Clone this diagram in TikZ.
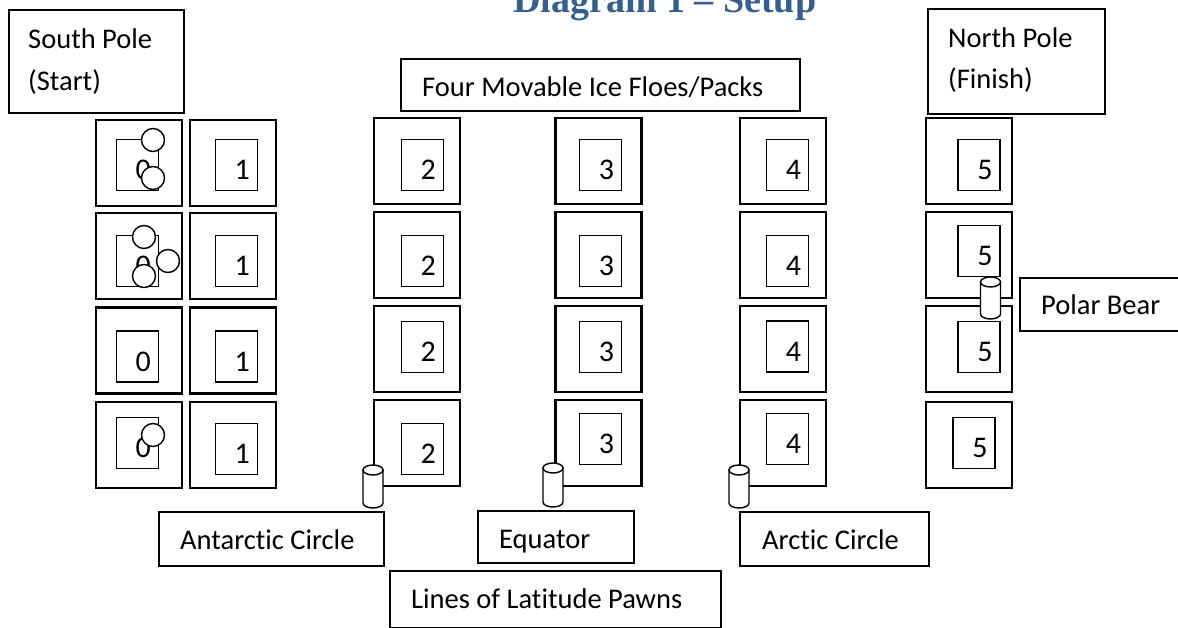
\documentclass[tikz,border=0pt]{standalone}
\usepackage{fontspec}
\setmainfont[Ligatures={NoCommon}]{Carlito}
\newfontfamily\titlefont{Liberation Serif}
\definecolor{titleblue}{RGB}{54,95,145}
\newcommand\Tile[6]{%
  \node[tile] (o#1) at (#2,#3) {};
  \node[innerbox] (i#1) at (#4,#5) {};
  \node[digit, anchor=east] (d#1) at ([xshift=-8pt,yshift=-5pt]i#1.east) {#6};}
\newcommand\Pawn[4]{%
  \coordinate (#1) at (#2,#3);
  \draw[pawnline] (#2-10,#3) -- (#2-10,#4) arc[start angle=180, end angle=0, x radius=10, y radius=5] -- (#2+10,#3) -- cycle;
  \draw[pawnline] (#2,#3) ellipse [x radius=10, y radius=5];}
\begin{document}
\begin{tikzpicture}[x=1pt,y=-1pt,
  tile/.style={draw, line width=2.2pt, minimum width=86pt, minimum height=86pt, inner sep=0pt},
  innerbox/.style={draw, line width=1.3pt, minimum width=42pt, minimum height=51pt, inner sep=0pt},
  digit/.style={inner sep=0pt, font=\fontsize{30}{32}\selectfont},
  lblbox/.style={draw, fill=white, line width=1.6pt, anchor=north west, inner sep=0pt},
  lbltext/.style={anchor=base west, inner sep=0pt, font=\fontsize{28.5}{34}\selectfont},
  tok/.style={draw, fill=white, line width=1.4pt, circle, minimum size=23pt, inner sep=0pt},
  pawnline/.style={draw, fill=white, line width=1.4pt}]
\useasboundingbox (0,0) rectangle (1178,628);

% title (partly cut off by the page top, as in the reference)
\node[anchor=base west, inner sep=0pt, text=titleblue,
      font=\titlefont\bfseries\fontsize{38}{40}\selectfont] (title) at (513,13) {Diagram 1 – Setup};

% column 0
\Tile{a1}{139}{163}{137.5}{165}{0}
\Tile{a2}{139}{256}{137.5}{261}{0}
\Tile{a3}{139}{350.5}{137.5}{356.5}{0}
\Tile{a4}{139}{445}{137.5}{443}{0}
% column 1
\Tile{b1}{233}{163}{236.5}{165}{1}
\Tile{b2}{233}{256}{236.5}{261}{1}
\Tile{b3}{233}{350.5}{236.5}{356.5}{1}
\Tile{b4}{233}{445}{236.5}{449}{1}
% column 2
\Tile{c1}{417}{161}{422.5}{165}{2}
\Tile{c2}{417}{255}{422.5}{261}{2}
\Tile{c3}{417}{349}{422.5}{347}{2}
\Tile{c4}{417}{443}{422.5}{449}{2}
% column 3
\Tile{e1}{598.5}{161}{600.5}{165}{3}
\Tile{e2}{598.5}{255}{600.5}{261}{3}
\Tile{e3}{598.5}{349}{600.5}{347}{3}
\Tile{e4}{598.5}{443}{600.5}{439}{3}
% column 4
\Tile{f1}{783}{161}{787.5}{165}{4}
\Tile{f2}{783}{255}{787.5}{261}{4}
\Tile{f3}{783}{349}{787.5}{346.5}{4}
\Tile{f4}{783}{443}{787.5}{439}{4}
% column 5
\Tile{g1}{969}{161}{979}{165}{5}
\Tile{g2}{969}{255}{979}{251}{5}
\Tile{g3}{969}{349}{979}{347}{5}
\Tile{g4}{969}{445}{974}{443}{5}

% explorer tokens at the start
\node[tok] (k1) at (153,140) {};
\node[tok] (k2) at (153,178) {};
\node[tok] (k3) at (144,237) {};
\node[tok] (k4) at (168,261) {};
\node[tok] (k5) at (144,276) {};
\node[tok] (k6) at (153,435) {};

% label boxes
\node[lblbox, minimum width=175pt, minimum height=103pt] (southbox) at (8,9) {};
\node[lbltext] (southtxt1) at (28,49) {South Pole};
\node[lbltext] (southtxt2) at (28,91) {(Start)};
\node[lblbox, minimum width=177pt, minimum height=105pt] (northbox) at (927,8) {};
\node[lbltext] (northtxt1) at (948,48) {North Pole};
\node[lbltext] (northtxt2) at (948,89) {(Finish)};
\node[lblbox, minimum width=399pt, minimum height=52pt] (floebox) at (400,58) {};
\node[lbltext] (floetxt) at (422,97) {Four Movable Ice Floes/Packs};
\node[lblbox, minimum width=180pt, minimum height=53pt] (bearbox) at (1019,277) {};
\node[lbltext] (beartxt) at (1041,315) {Polar Bear};
\node[lblbox, minimum width=225pt, minimum height=54pt] (antbox) at (158,511) {};
\node[lbltext] (anttxt) at (180,549) {Antarctic Circle};
\node[lblbox, minimum width=156pt, minimum height=52pt] (eqbox) at (477,510) {};
\begin{scope}
  \clip (478,511) rectangle (632,552);
  \node[lbltext] (eqtxt) at (499,548) {Equator};
\end{scope}
\node[lblbox, minimum width=189pt, minimum height=54pt] (arcbox) at (739,511) {};
\node[lbltext] (arctxt) at (762,549) {Arctic Circle};
\node[lblbox, minimum width=331pt, minimum height=57pt] (latbox) at (389,570) {};
\node[lbltext] (lattxt) at (411,608) {Lines of Latitude Pawns};

% pawns
\Pawn{pant}{373}{470}{503}
\Pawn{peq}{553}{468}{502}
\Pawn{parc}{739}{470}{503}
\Pawn{pbear}{990.5}{282}{314}
\end{tikzpicture}
\end{document}
